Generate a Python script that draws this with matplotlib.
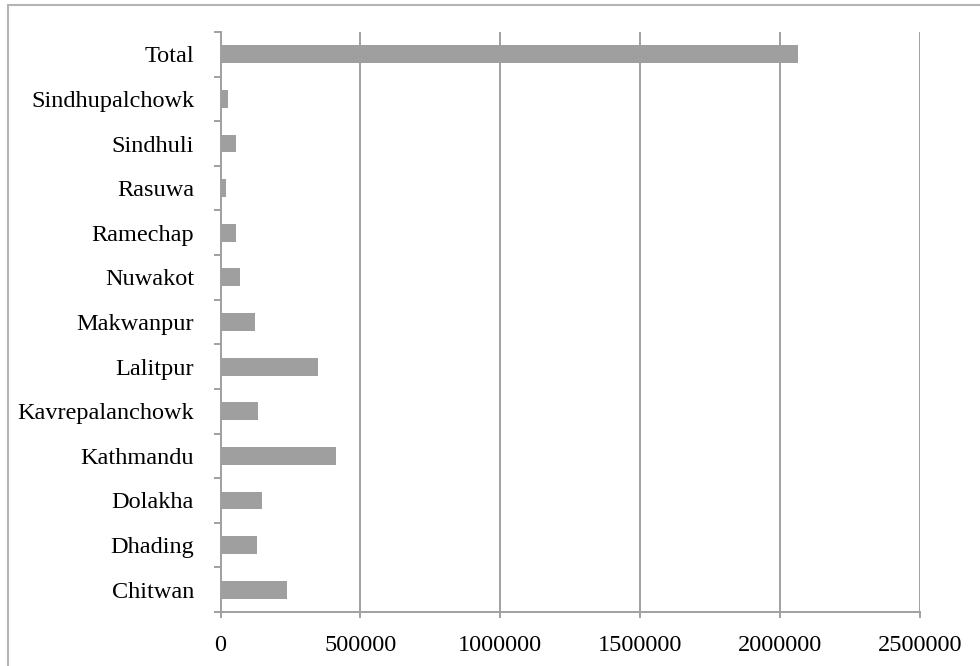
import matplotlib
matplotlib.use("Agg")
import matplotlib.pyplot as plt
from matplotlib.patches import Rectangle
import numpy as np

# districts, bottom to top as in the chart
districts = ["Chitwan", "Dhading", "Dolakha", "Kathmandu", "Kavrepalanchowk",
             "Lalitpur", "Makwanpur", "Nuwakot", "Ramechap", "Rasuwa",
             "Sindhuli", "Sindhupalchowk", "Total"]
values = [237000, 130000, 148000, 412000, 133000,
          348000, 125000, 69000, 57000, 19000,
          57000, 26000, 2065000]
xticks = [0, 500000, 1000000, 1500000, 2000000, 2500000]

plt.rcParams['font.family'] = ['Liberation Serif', 'DejaVu Serif']

fig = plt.figure(figsize=(9.8, 6.66), dpi=100)
ax = fig.add_axes([0.225, 0.0811, 0.7138, 0.8709])

grey = '#a0a0a0'
y = np.arange(len(districts))
ax.barh(y, values, height=0.4, color='#9f9f9f', zorder=3)

ax.set_xlim(0, 2500000)
ax.set_ylim(-0.5, len(districts) - 0.5)
ax.set_xticks(xticks)
ax.set_xticklabels([str(v) for v in xticks])
ax.set_yticks(y)
ax.set_yticklabels(districts)
ax.set_yticks(np.arange(-0.5, len(districts), 1.0), minor=True)

ax.xaxis.grid(True, color=grey, linewidth=1.4, zorder=0)
ax.tick_params(axis='y', which='major', length=0, pad=19, labelsize=17.5)
ax.tick_params(axis='y', which='minor', length=5, width=1.4, color=grey, direction='out')
ax.tick_params(axis='x', which='major', length=4.5, width=1.4, color=grey, pad=12, labelsize=17.5)

for side in ['top', 'right']:
    ax.spines[side].set_visible(False)
for side in ['left', 'bottom']:
    ax.spines[side].set_color(grey)
    ax.spines[side].set_linewidth(1.4)

# outer chart frame (only top and left edges fall inside the picture)
fig.patches.append(Rectangle((8 / 980, -0.1), 1.2, (666 - 5) / 666 + 0.1,
                             transform=fig.transFigure, fill=False,
                             edgecolor='#b4b4b4', linewidth=1.5))

fig.savefig("out.png", dpi=100)
